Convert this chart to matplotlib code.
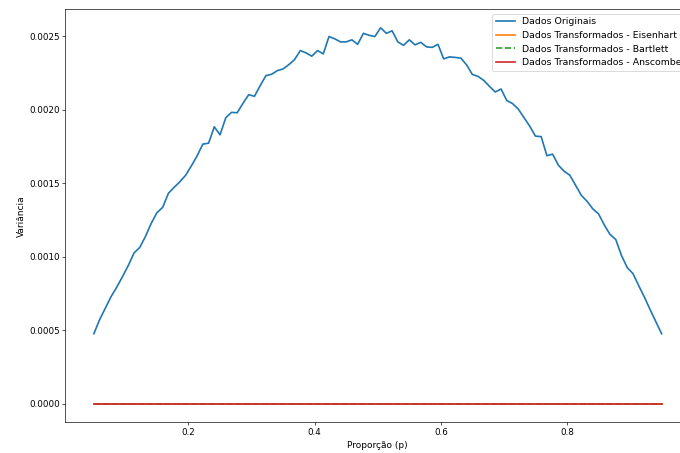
import numpy as np
import matplotlib
matplotlib.use("Agg")
import matplotlib.pyplot as plt

# Proportions p on a regular grid
p = np.linspace(0.05, 0.95, 100)

# Variance of the original proportions
var_original = [
    0.0004754, 0.0005710, 0.0006494, 0.0007278, 0.0007926, 0.0008643, 0.0009393, 0.0010246, 0.0010621, 0.0011371,
    0.0012258, 0.0012988, 0.0013349, 0.0014304, 0.0014714, 0.0015089, 0.0015532, 0.0016166, 0.0016849, 0.0017647,
    0.0017715, 0.0018827, 0.0018281, 0.0019441, 0.0019809, 0.0019782, 0.0020423, 0.0021010, 0.0020900, 0.0021623,
    0.0022306, 0.0022401, 0.0022647, 0.0022763, 0.0023056, 0.0023397, 0.0024011, 0.0023854, 0.0023629, 0.0024011,
    0.0023786, 0.0024966, 0.0024809, 0.0024604, 0.0024604, 0.0024741, 0.0024434, 0.0025184, 0.0025048, 0.0024966,
    0.0025559, 0.0025184, 0.0025355, 0.0024604, 0.0024366, 0.0024741, 0.0024400, 0.0024571, 0.0024263, 0.0024229,
    0.0024434, 0.0023445, 0.0023581, 0.0023547, 0.0023493, 0.0023035, 0.0022387, 0.0022251, 0.0021978, 0.0021569,
    0.0021194, 0.0021398, 0.0020614, 0.0020409, 0.0020034, 0.0019454, 0.0018874, 0.0018192, 0.0018158, 0.0016862,
    0.0016965, 0.0016214, 0.0015805, 0.0015532, 0.0014850, 0.0014168, 0.0013759, 0.0013247, 0.0012906, 0.0012156,
    0.0011507, 0.0011166, 0.0010075, 0.0009256, 0.0008847, 0.0008029, 0.0007244, 0.0006392, 0.0005573, 0.0004754,
]

# Variance after each transformation (all essentially zero on this scale)
var_eisenhart = [0.0] * 100
var_bartlett = [0.0] * 100
var_anscombe = [0.0] * 100

plt.rcParams.update({
    "xtick.labelsize": 10.5,
    "ytick.labelsize": 10.5,
    "axes.labelsize": 10.8,
    "legend.fontsize": 11.2,
    "lines.linewidth": 2.0,
})

DPI = 60
fig = plt.figure(figsize=(680 / DPI, 453 / DPI), dpi=DPI)
ax = fig.add_axes([0.0963, 0.0675, 0.9184, 0.9126])

ax.plot(p, var_original, label="Dados Originais")
ax.plot(p, var_eisenhart, label="Dados Transformados - Eisenhart")
ax.plot(p, var_bartlett, "--", label="Dados Transformados - Bartlett")
ax.plot(p, var_anscombe, label="Dados Transformados - Anscombe")

ax.set_xlabel("Proporção (p)")
ax.set_ylabel("Variância")
ax.legend(loc="upper right")

fig.savefig("out.png", dpi=DPI)
